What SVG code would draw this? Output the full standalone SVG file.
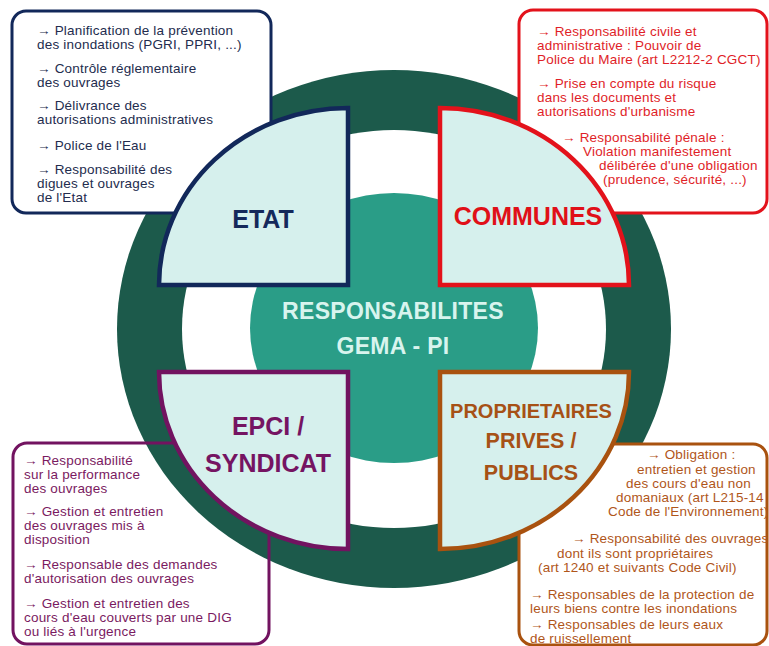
<svg xmlns="http://www.w3.org/2000/svg" width="769" height="646" viewBox="0 0 769 646">
<style>
  .box { fill: #ffffff; stroke-width: 3; }
  .t { font-family: "Liberation Sans", Arial, sans-serif; font-size: 13.5px; letter-spacing: 0.2px; }
  .lbl { font-family: "Liberation Sans", Arial, sans-serif; font-weight: bold; text-anchor: middle; }
  .quad { fill: #d6f0ed; stroke-width: 4.5; stroke-linejoin: miter; }
  .etat { stroke: #12285a; }
  .comm { stroke: #e3121b; }
  .epci { stroke: #721360; }
  .prop { stroke: #a9520f; }
  .tetat { fill: #232c4e; }
  .tcomm { fill: #e01e28; }
  .tepci { fill: #7a1a61; }
  .tprop { fill: #b0561a; }
</style>
<rect x="0" y="0" width="769" height="646" fill="#ffffff"/>
<g id="ring">
  <ellipse cx="394" cy="329" rx="277" ry="259" fill="#1c5a4b"/>
  <ellipse cx="394" cy="329" rx="212" ry="199" fill="#ffffff"/>
  <ellipse cx="394" cy="328" rx="144" ry="135" fill="#2a9d87"/>
</g>
<g id="connectors"></g>
<g id="box-etat">
  <rect class="box etat" x="12" y="11" width="259" height="202" rx="14"/>
  <text class="t tetat">
    <tspan x="37" y="35">→ Planification de la prévention</tspan>
    <tspan x="37" y="49">des inondations (PGRI, PPRI, ...)</tspan>
    <tspan x="37" y="73">→ Contrôle réglementaire</tspan>
    <tspan x="37" y="87">des ouvrages</tspan>
    <tspan x="37" y="110">→ Délivrance des</tspan>
    <tspan x="37" y="124">autorisations administratives</tspan>
    <tspan x="37" y="150">→ Police de l'Eau</tspan>
    <tspan x="37" y="174">→ Responsabilité des</tspan>
    <tspan x="37" y="188">digues et ouvrages</tspan>
    <tspan x="37" y="202">de l'Etat</tspan>
  </text>
</g>
<g id="box-communes">
  <rect class="box comm" x="519" y="10" width="248" height="203" rx="14"/>
  <text class="t tcomm">
    <tspan x="537" y="36">→ Responsabilité civile et</tspan>
    <tspan x="537" y="50">administrative : Pouvoir de</tspan>
    <tspan x="537" y="64">Police du Maire (art L2212-2 CGCT)</tspan>
    <tspan x="537" y="88">→ Prise en compte du risque</tspan>
    <tspan x="537" y="102">dans les documents et</tspan>
    <tspan x="537" y="116">autorisations d'urbanisme</tspan>
    <tspan x="562" y="142">→ Responsabilité pénale :</tspan>
    <tspan x="583" y="156">Violation manifestement</tspan>
    <tspan x="599" y="170">délibérée d'une obligation</tspan>
    <tspan x="603" y="184">(prudence, sécurité, ...)</tspan>
  </text>
</g>
<g id="box-epci">
  <rect class="box epci" x="13" y="443" width="256" height="201" rx="14" style="fill:none"/>
  <text class="t tepci">
    <tspan x="24" y="465">→ Responsabilité</tspan>
    <tspan x="24" y="479">sur la performance</tspan>
    <tspan x="24" y="493">des ouvrages</tspan>
    <tspan x="24" y="516">→ Gestion et entretien</tspan>
    <tspan x="24" y="530">des ouvrages mis à</tspan>
    <tspan x="24" y="544">disposition</tspan>
    <tspan x="24" y="569">→ Responsable des demandes</tspan>
    <tspan x="24" y="583">d'autorisation des ouvrages</tspan>
    <tspan x="24" y="608">→ Gestion et entretien des</tspan>
    <tspan x="24" y="622">cours d'eau couverts par une DIG</tspan>
    <tspan x="24" y="636">ou liés à l'urgence</tspan>
  </text>
</g>
<g id="box-proprietaires">
  <rect class="box prop" x="519" y="444" width="248" height="201" rx="14"/>
  <text class="t tprop">
    <tspan x="647" y="459">→ Obligation :</tspan>
    <tspan x="637" y="474">entretien et gestion</tspan>
    <tspan x="626" y="488">des cours d'eau non</tspan>
    <tspan x="616" y="502">domaniaux (art L215-14</tspan>
    <tspan x="608" y="516">Code de l'Environnement)</tspan>
    <tspan x="572" y="543">→ Responsabilité des ouvrages</tspan>
    <tspan x="557" y="558">dont ils sont propriétaires</tspan>
    <tspan x="538" y="572">(art 1240 et suivants Code Civil)</tspan>
    <tspan x="530" y="599">→ Responsables de la protection de</tspan>
    <tspan x="530" y="613">leurs biens contre les inondations</tspan>
    <tspan x="530" y="629">→ Responsables de leurs eaux</tspan>
    <tspan x="530" y="643">de ruissellement</tspan>
  </text>
</g>
<g id="node-center">
  <text class="lbl" x="393" y="319" font-size="23" fill="#d8f4ee" letter-spacing="0.3">RESPONSABILITES</text>
  <text class="lbl" x="393" y="354" font-size="23" fill="#d8f4ee" letter-spacing="0.3">GEMA - PI</text>
</g>
<g id="node-etat">
  <path class="quad etat" d="M348,285 H159 A189,177 0 0 1 348,108 Z"/>
  <text class="lbl" x="263" y="228" font-size="25" fill="#14295b">ETAT</text>
</g>
<g id="node-communes">
  <path class="quad comm" d="M440,285 V108 A189,177 0 0 1 629,285 Z"/>
  <text class="lbl" x="528" y="225" font-size="25" fill="#e01018">COMMUNES</text>
</g>
<g id="node-epci">
  <path class="quad epci" d="M348,372 H159 A189,177 0 0 0 348,549 Z"/>
  <text class="lbl" x="268" y="435" font-size="25" fill="#751462">EPCI /</text>
  <text class="lbl" x="268" y="472" font-size="25" fill="#751462">SYNDICAT</text>
</g>
<g id="node-proprietaires">
  <path class="quad prop" d="M440,372 H629 A189,177 0 0 1 440,549 Z"/>
  <text class="lbl" x="531" y="418" font-size="20" fill="#a65116">PROPRIETAIRES</text>
  <text class="lbl" x="531" y="448" font-size="21.5" fill="#a65116">PRIVES /</text>
  <text class="lbl" x="531" y="480" font-size="21.5" fill="#a65116">PUBLICS</text>
</g>
</svg>
